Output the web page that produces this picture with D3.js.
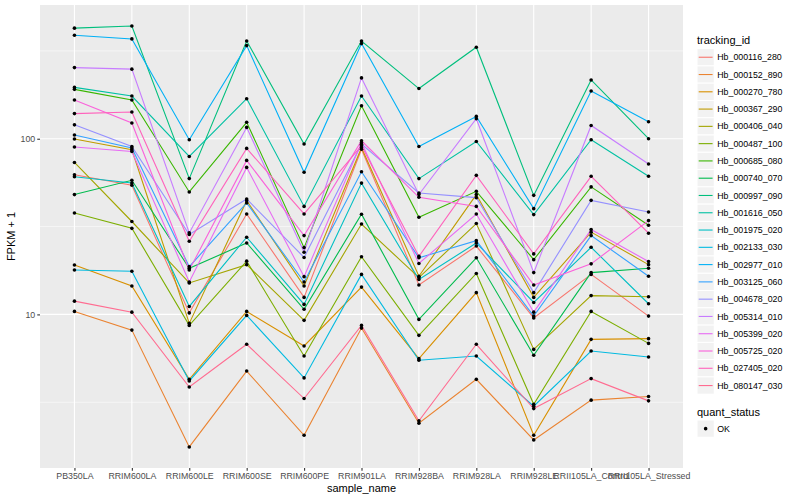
<!DOCTYPE html>
<html>
<head>
<meta charset="utf-8">
<script src="https://cdn.jsdelivr.net/npm/d3@7"></script>
<style>
  body { margin: 0; background: #fff; }
  text { font-family: "Liberation Sans", Arial, sans-serif; }
</style>
</head>
<body>
<div id="chart"></div>
<script>
// samples on the x axis
const samples = ["PB350LA", "RRIM600LA", "RRIM600LE", "RRIM600SE", "RRIM600PE", "RRIM901LA",
  "RRIM928BA", "RRIM928LA", "RRIM928LE", "RRII105LA_Control", "RRII105LA_Stressed"];

const trackingIds = ["Hb_000116_280", "Hb_000152_890", "Hb_000270_780", "Hb_000367_290", "Hb_000406_040",
  "Hb_000487_100", "Hb_000685_080", "Hb_000740_070", "Hb_000997_090", "Hb_001616_050",
  "Hb_001975_020", "Hb_002133_030", "Hb_002977_010", "Hb_003125_060", "Hb_004678_020",
  "Hb_005314_010", "Hb_005399_020", "Hb_005725_020", "Hb_027405_020", "Hb_080147_030"];

// FPKM + 1, one value per sample
const hb_000116_280 = [62.4, 54.3, 10.2, 37.3, 12.5, 87.1, 14.7, 24.5, 9.55, 16.9, 9.78];
const hb_000152_890 = [10.4, 8.14, 1.76, 4.76, 2.05, 8.36, 2.40, 4.27, 1.93, 3.25, 3.41];
const hb_000270_780 = [19.1, 14.5, 4.27, 10.4, 6.61, 14.3, 5.60, 13.3, 2.05, 7.21, 7.28];
const hb_000367_290 = [99.6, 86.6, 8.89, 44.4, 14.5, 88.9, 16.5, 48.1, 12.5, 29.4, 19.2];
const hb_000406_040 = [73.3, 33.8, 15.1, 19.2, 9.25, 32.7, 16.2, 32.9, 6.32, 12.8, 12.6];
const hb_000487_100 = [37.8, 30.9, 8.66, 20.1, 5.80, 21.3, 7.60, 17.1, 3.08, 10.4, 6.84];
const hb_000685_080 = [191, 166, 49.8, 124, 24.0, 154, 35.7, 50.2, 20.5, 53.2, 32.2];
const hb_000740_070 = [48.1, 58.0, 18.3, 25.5, 10.7, 37.2, 9.37, 21.0, 5.85, 17.3, 18.3];
const hb_000997_090 = [426, 438, 59.3, 360, 93.3, 360, 193, 332, 47.6, 216, 100];
const hb_001616_050 = [196, 175, 79.3, 169, 41.2, 175, 59.3, 96.5, 37.0, 98.7, 61.1];
const hb_001975_020 = [60.8, 56.0, 11.1, 27.5, 11.4, 55.9, 15.8, 25.5, 11.7, 24.1, 11.5];
const hb_002133_030 = [17.9, 17.6, 4.18, 9.87, 4.35, 16.9, 5.48, 5.80, 3.00, 6.19, 5.72];
const hb_002977_010 = [388, 370, 98.7, 339, 64.4, 348, 90.4, 134, 40.0, 187, 125];
const hb_003125_060 = [105, 88.5, 18.7, 43.1, 15.3, 64.9, 21.0, 26.3, 9.78, 28.1, 16.5];
const hb_004678_020 = [120, 90.4, 28.5, 45.4, 21.1, 93.1, 49.1, 46.2, 13.3, 44.6, 38.3];
const hb_005314_010 = [254, 249, 29.1, 116, 22.6, 222, 48.1, 130, 17.3, 119, 71.8];
const hb_005399_020 = [89.7, 84.7, 15.3, 68.7, 16.4, 94.9, 19.5, 37.3, 10.3, 30.4, 20.0];
const hb_005725_020 = [166, 123, 17.9, 75.3, 28.1, 97.4, 46.4, 41.2, 14.7, 19.4, 34.2];
const hb_027405_020 = [139, 142, 26.1, 88.1, 37.3, 91.2, 21.4, 61.9, 22.1, 61.1, 29.0];
const hb_080147_030 = [11.9, 10.3, 3.86, 6.76, 3.32, 8.66, 2.48, 6.76, 2.91, 4.31, 3.22];

const seriesValues = [hb_000116_280, hb_000152_890, hb_000270_780, hb_000367_290, hb_000406_040,
  hb_000487_100, hb_000685_080, hb_000740_070, hb_000997_090, hb_001616_050,
  hb_001975_020, hb_002133_030, hb_002977_010, hb_003125_060, hb_004678_020,
  hb_005314_010, hb_005399_020, hb_005725_020, hb_027405_020, hb_080147_030];

const yTicks = [10, 100];
const yMinor = [Math.pow(10, 0.5), Math.pow(10, 1.5), Math.pow(10, 2.5)];

// ggplot hue palette for 20 levels
const colors = ["#F8766D", "#EA8331", "#D89000", "#C09B00", "#A3A500", "#7CAE00", "#39B600",
  "#00BB4E", "#00BF7D", "#00C1A3", "#00BFC4", "#00BAE0", "#00B0F6", "#35A2FF", "#9590FF",
  "#C77CFF", "#E76BF3", "#FA62DB", "#FF62BC", "#FF6C91"];

const series = trackingIds.map((id, i) => ({
  id: id,
  color: colors[i],
  values: seriesValues[i].map((v, j) => ({ sample: samples[j], value: v }))
}));

const W = 800, H = 500;
const panel = { left: 40, right: 683, top: 5, bottom: 468 };

const svg = d3
  .select("#chart")
  .append("svg")
  .attr("width", W)
  .attr("height", H);

const x = d3
  .scalePoint()
  .domain(samples)
  .range([panel.left, panel.right])
  .padding(0.6);

// log scale, expanded 5% like ggplot
const allLog = seriesValues.flat().map((v) => Math.log10(v));
const lo = d3.min(allLog), hi = d3.max(allLog);
const pad = (hi - lo) * 0.05;
const y = d3
  .scaleLog()
  .domain([Math.pow(10, lo - pad), Math.pow(10, hi + pad)])
  .range([panel.bottom, panel.top]);

svg
  .append("rect")
  .attr("x", panel.left)
  .attr("y", panel.top)
  .attr("width", panel.right - panel.left)
  .attr("height", panel.bottom - panel.top)
  .attr("fill", "#EBEBEB");

// grid
svg
  .selectAll(".minor")
  .data(yMinor)
  .enter()
  .append("line")
  .attr("x1", panel.left)
  .attr("x2", panel.right)
  .attr("y1", (d) => y(d))
  .attr("y2", (d) => y(d))
  .attr("stroke", "#fff")
  .attr("stroke-width", 0.55);

svg
  .selectAll(".major-y")
  .data(yTicks)
  .enter()
  .append("line")
  .attr("x1", panel.left)
  .attr("x2", panel.right)
  .attr("y1", (d) => y(d))
  .attr("y2", (d) => y(d))
  .attr("stroke", "#fff")
  .attr("stroke-width", 1.1);

svg
  .selectAll(".major-x")
  .data(samples)
  .enter()
  .append("line")
  .attr("x1", (d) => x(d))
  .attr("x2", (d) => x(d))
  .attr("y1", panel.top)
  .attr("y2", panel.bottom)
  .attr("stroke", "#fff")
  .attr("stroke-width", 1.1);

// lines
const line = d3
  .line()
  .x((d) => x(d.sample))
  .y((d) => y(d.value));

svg
  .selectAll(".series")
  .data(series)
  .enter()
  .append("path")
  .attr("fill", "none")
  .attr("stroke", (d) => d.color)
  .attr("stroke-width", 1.1)
  .attr("d", (d) => line(d.values));

// points
svg
  .selectAll(".pt")
  .data(series.flatMap((s) => s.values))
  .enter()
  .append("circle")
  .attr("cx", (d) => x(d.sample))
  .attr("cy", (d) => y(d.value))
  .attr("r", 1.8)
  .attr("fill", "black");

// axes
const xAxis = svg
  .append("g")
  .attr("transform", `translate(0,${panel.bottom})`)
  .call(d3.axisBottom(x).tickSize(2.75).tickPadding(2));

const yAxis = svg
  .append("g")
  .attr("transform", `translate(${panel.left},0)`)
  .call(d3.axisLeft(y).tickValues(yTicks).tickFormat(d3.format("d")).tickSize(2.75).tickPadding(2));

[xAxis, yAxis].forEach((g) => {
  g.select(".domain").remove();
  g.selectAll(".tick line").attr("stroke", "#333333").attr("stroke-width", 1.1);
  g.selectAll(".tick text")
    .attr("fill", "#4D4D4D")
    .style("font-size", "8.8px")
    .style("font-family", "'Liberation Sans', Arial, sans-serif");
});

svg
  .append("text")
  .attr("x", (panel.left + panel.right) / 2)
  .attr("y", 492)
  .style("text-anchor", "middle")
  .style("font-size", "11px")
  .style("fill", "black")
  .text("sample_name");

svg
  .append("text")
  .attr("transform", `translate(15,${(panel.top + panel.bottom) / 2}) rotate(-90)`)
  .style("text-anchor", "middle")
  .style("font-size", "11px")
  .style("fill", "black")
  .text("FPKM + 1");

// legend
const legendX = 697, keyH = 17.28, keyTop = 48.6;

svg
  .append("text")
  .attr("x", legendX)
  .attr("y", 44)
  .style("font-size", "11px")
  .style("fill", "black")
  .text("tracking_id");

const keys = svg
  .selectAll(".key")
  .data(series)
  .enter()
  .append("g")
  .attr("transform", (d, i) => `translate(${legendX},${keyTop + i * keyH})`);

keys
  .append("rect")
  .attr("width", keyH)
  .attr("height", keyH)
  .attr("fill", "#F2F2F2")
  .attr("stroke", "#fff")
  .attr("stroke-width", 1);

keys
  .append("line")
  .attr("x1", 1.7)
  .attr("x2", keyH - 1.7)
  .attr("y1", keyH / 2)
  .attr("y2", keyH / 2)
  .attr("stroke", (d) => d.color)
  .attr("stroke-width", 1.1);

keys
  .append("text")
  .attr("x", keyH + 3)
  .attr("y", keyH / 2)
  .attr("dy", "0.35em")
  .style("font-size", "8.8px")
  .style("fill", "black")
  .text((d) => d.id);

const statusTop = 420;
svg
  .append("text")
  .attr("x", legendX)
  .attr("y", statusTop - 4)
  .style("font-size", "11px")
  .style("fill", "black")
  .text("quant_status");

svg
  .append("rect")
  .attr("x", legendX)
  .attr("y", statusTop)
  .attr("width", keyH)
  .attr("height", keyH)
  .attr("fill", "#F2F2F2")
  .attr("stroke", "#fff");

svg
  .append("circle")
  .attr("cx", legendX + keyH / 2)
  .attr("cy", statusTop + keyH / 2)
  .attr("r", 1.8)
  .attr("fill", "black");

svg
  .append("text")
  .attr("x", legendX + keyH + 3)
  .attr("y", statusTop + keyH / 2)
  .attr("dy", "0.35em")
  .style("font-size", "8.8px")
  .style("fill", "black")
  .text("OK");
</script>
</body>
</html>
